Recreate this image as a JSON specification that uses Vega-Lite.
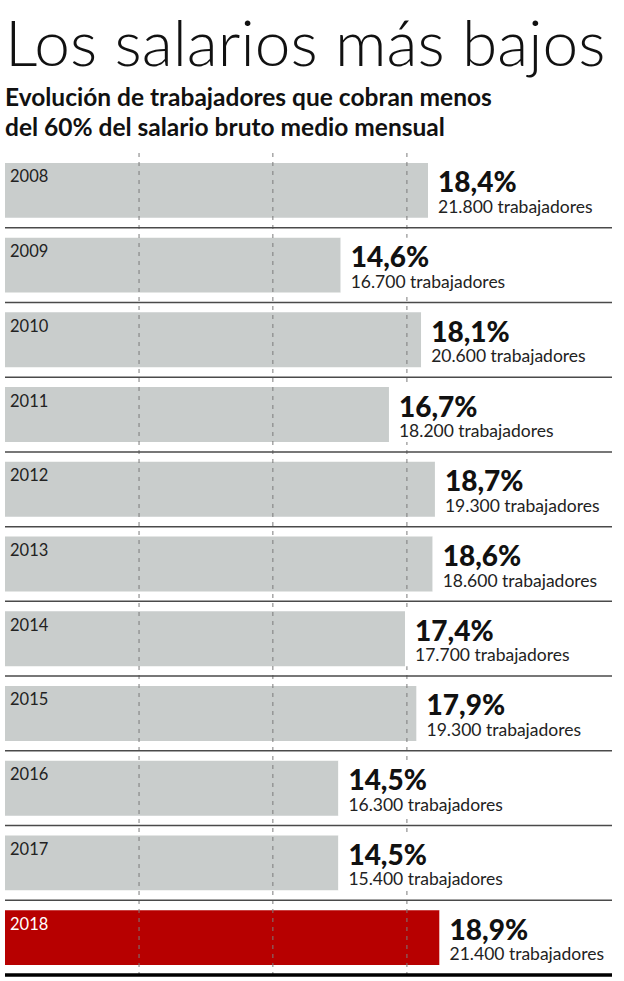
{
  "$schema": "https://vega.github.io/schema/vega-lite/v6.json",
  "width": 607,
  "height": 822,
  "autosize": {"type": "none"},
  "padding": {"left": 5, "top": 153, "right": 12, "bottom": 6},
  "background": "#ffffff",
  "config": {
    "view": {"stroke": null},
    "locale": {
      "number": {"decimal": ",", "thousands": ".", "grouping": [3], "currency": ["", " trabajadores"]}
    }
  },
  "title": {
    "text": "Los salarios más bajos",
    "subtitle": ["Evolución de trabajadores que cobran menos", "del 60% del salario bruto medio mensual"],
    "anchor": "start",
    "frame": "group",
    "dx": 0,
    "offset": 12,
    "font": "Lato",
    "fontSize": 64,
    "fontWeight": 300,
    "color": "#111111",
    "subtitleFont": "Lato",
    "subtitleFontSize": 24.5,
    "subtitleFontWeight": "bold",
    "subtitleColor": "#111111",
    "subtitleLineHeight": 30,
    "subtitlePadding": 8
  },
  "datasets": {
    "rows": [
      {"year": "2008", "pct": 0.184, "workers": 21800},
      {"year": "2009", "pct": 0.146, "workers": 16700},
      {"year": "2010", "pct": 0.181, "workers": 20600},
      {"year": "2011", "pct": 0.167, "workers": 18200},
      {"year": "2012", "pct": 0.187, "workers": 19300},
      {"year": "2013", "pct": 0.186, "workers": 18600},
      {"year": "2014", "pct": 0.174, "workers": 17700},
      {"year": "2015", "pct": 0.179, "workers": 19300},
      {"year": "2016", "pct": 0.145, "workers": 16300},
      {"year": "2017", "pct": 0.145, "workers": 15400},
      {"year": "2018", "pct": 0.189, "workers": 21400}
    ],
    "grid": [{"g": 0.0583}, {"g": 0.1165}, {"g": 0.1748}]
  },
  "encoding": {
    "y": {"field": "year", "type": "nominal", "sort": null, "axis": null, "scale": {"paddingInner": 0, "paddingOuter": 0}}
  },
  "layer": [
    {
      "data": {"name": "rows"},
      "mark": {"type": "bar", "height": {"band": 0.735}},
      "encoding": {
        "x": {"field": "pct", "type": "quantitative", "axis": null, "scale": {"domain": [0, 0.264], "nice": false}},
        "color": {"condition": {"test": "datum.year === '2018'", "value": "#b70000"}, "value": "#c9cdcc"}
      }
    },
    {
      "data": {"name": "grid"},
      "mark": {"type": "rule", "strokeDash": [4, 5], "strokeWidth": 1, "color": "#7a7a7a"},
      "encoding": {
        "x": {"field": "g", "type": "quantitative"},
        "y": null
      }
    },
    {
      "data": {"name": "rows"},
      "mark": {"type": "bar", "height": {"band": 0.735}, "color": "#ffffff"},
      "encoding": {
        "x": {"field": "pct", "type": "quantitative"},
        "x2": {"datum": 0.264}
      }
    },
    {
      "data": {"name": "rows"},
      "mark": {"type": "rule"},
      "encoding": {
        "y": {"field": "year", "type": "nominal", "sort": null, "bandPosition": 1},
        "color": {"condition": {"test": "datum.year === '2018'", "value": "#000000"}, "value": "#4a4a4a"},
        "strokeWidth": {"condition": {"test": "datum.year === '2018'", "value": 3.5}, "value": 1.5}
      }
    },
    {
      "data": {"name": "rows"},
      "mark": {"type": "text", "align": "left", "baseline": "alphabetic", "dx": 5, "dy": -8, "font": "Lato", "fontSize": 16.5},
      "encoding": {
        "x": {"datum": 0},
        "text": {"field": "year"},
        "color": {"condition": {"test": "datum.year === '2018'", "value": "#ffffff"}, "value": "#222222"}
      }
    },
    {
      "data": {"name": "rows"},
      "mark": {"type": "text", "align": "left", "baseline": "alphabetic", "dx": 10, "dy": 2, "font": "Lato", "fontSize": 28, "fontWeight": 900, "color": "#111111"},
      "encoding": {
        "x": {"field": "pct", "type": "quantitative"},
        "text": {"field": "pct", "type": "quantitative", "format": ".1%"}
      }
    },
    {
      "data": {"name": "rows"},
      "mark": {"type": "text", "align": "left", "baseline": "alphabetic", "dx": 10, "dy": 22.5, "font": "Lato", "fontSize": 17.5, "color": "#222222"},
      "encoding": {
        "x": {"field": "pct", "type": "quantitative"},
        "text": {"field": "workers", "type": "quantitative", "format": "$,d"}
      }
    }
  ]
}
